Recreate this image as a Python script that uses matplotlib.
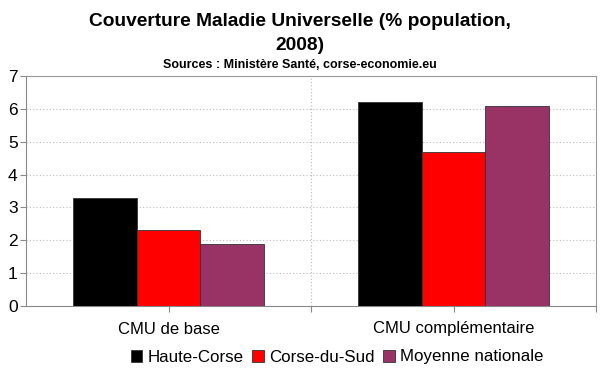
import matplotlib
matplotlib.use('Agg')
import matplotlib.pyplot as plt
import numpy as np

# data
categories = ['CMU de base', 'CMU complémentaire']
series_names = ['Haute-Corse', 'Corse-du-Sud', 'Moyenne nationale']
haute_corse = [3.3, 6.2]
corse_du_sud = [2.3, 4.7]
moyenne_nationale = [1.9, 6.1]
colors = ['#000000', '#ff0000', '#993366']
yticks = [0, 1, 2, 3, 4, 5, 6, 7]

plt.rcParams['font.family'] = ['Liberation Sans', 'DejaVu Sans']

fig = plt.figure(figsize=(6, 3.72), dpi=100)
ax = fig.add_axes([26/600, 1-306/372, 570/600, 230/372])

x = np.arange(len(categories))
w = 0.223
for i, (vals, name, c) in enumerate(zip([haute_corse, corse_du_sud, moyenne_nationale], series_names, colors)):
    ax.bar(x + (i - 1) * w, vals, w, color=c, edgecolor='#333333', linewidth=0.6,
           label=name, zorder=3)

ax.set_xlim(-0.5, 1.5)
ax.set_ylim(0, 7)
ax.set_yticks(yticks)
ax.set_xticks([0, 0.5, 1, 1.5])
ax.set_xticklabels([])
ax.tick_params(axis='y', length=4, color='#888888', labelsize=12.5, pad=2)
ax.tick_params(axis='x', length=4, color='#888888')
for s in ax.spines.values():
    s.set_color('#999999')
    s.set_linewidth(0.8)
ax.spines['left'].set_color('#888888')
ax.spines['bottom'].set_color('#888888')

for y in yticks[1:-1]:
    ax.axhline(y, color='#bbbbbb', linestyle=(0, (1, 2)), linewidth=0.8, zorder=1)
ax.axvline(0.5, color='#bbbbbb', linestyle=(0, (1, 2)), linewidth=0.8, zorder=1)

for xi, cat in zip(x, categories):
    ax.text(xi, -0.7, cat, ha='center', va='center', fontsize=12, transform=ax.transData)

fig.text(0.5, 1-21/372, 'Couverture Maladie Universelle (% population,', ha='center', va='center',
         fontsize=13.8, fontweight='bold')
fig.text(0.5, 1-45/372, '2008)', ha='center', va='center', fontsize=13.8, fontweight='bold')
fig.text(0.5, 1-64.5/372, 'Sources : Ministère Santé, corse-economie.eu', ha='center', va='center',
         fontsize=9, fontweight='bold')

fig.legend(loc='center', bbox_to_anchor=(337/600, 1-357/372), ncol=3, frameon=False,
           fontsize=12.2, handlelength=0.7, handleheight=0.7, handletextpad=0.3,
           columnspacing=0.5, borderaxespad=0)

fig.savefig('out.png', dpi=100)
